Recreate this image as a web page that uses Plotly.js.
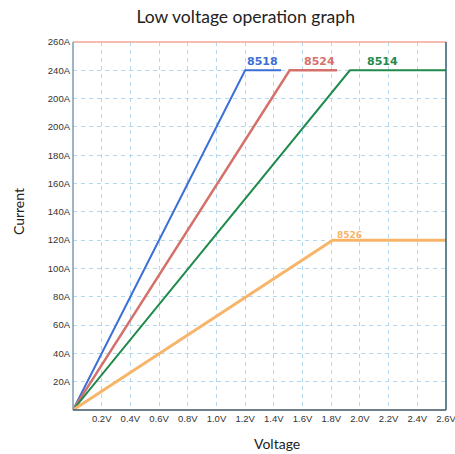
<!DOCTYPE html>
<html><head><meta charset="utf-8">
<script src="https://cdn.plot.ly/plotly-3.0.1.min.js"></script>
<style>html,body{margin:0;padding:0;background:#fff;}#chart{width:455px;height:454px;}</style>
</head><body><div id="chart"></div>
<script>
// Data
const seriesNames = ["8518", "8524", "8514", "8526"];
const v8518 = [0, 1.2, 1.45];
const i8518 = [0, 240, 240];
const v8524 = [0, 1.51, 1.84];
const i8524 = [0, 240, 240];
const v8514 = [0, 1.93, 2.6];
const i8514 = [0, 240, 240];
const v8526 = [0, 1.81, 2.6];
const i8526 = [0, 120, 120];
const xTickVals = [0.2,0.4,0.6,0.8,1.0,1.2,1.4,1.6,1.8,2.0,2.2,2.4,2.6];
const xTickText = ["0.2V","0.4V","0.6V","0.8V","1.0V","1.2V","1.4V","1.6V","1.8V","2.0V","2.2V","2.4V","2.6V"];
const yTickVals = [20,40,60,80,100,120,140,160,180,200,220,240,260];
const yTickText = ["20A","40A","60A","80A","100A","120A","140A","160A","180A","200A","200A","240A","260A"];
const labelPos = [[1.32,240],[1.72,240],[2.16,240],[1.93,120]];

const colors = ["#3b6fd6", "#d4716b", "#1f8a4c", "#f7b56a"];
const widths = [2, 2.5, 2, 3];
const xs = [v8518, v8524, v8514, v8526];
const ys = [i8518, i8524, i8514, i8526];

const traces = xs.map((x, k) => ({
  x: x, y: ys[k], mode: "lines", type: "scatter", name: seriesNames[k],
  line: {color: colors[k], width: widths[k]}, hoverinfo: "skip"
}));

const annotations = seriesNames.map((n, k) => ({
  x: labelPos[k][0], y: labelPos[k][1], xref: "x", yref: "y",
  text: "<b>" + n + "</b>", showarrow: false, yanchor: "bottom", yshift: k === 3 ? -2 : 0,
  font: {family: "DejaVu Sans", size: k === 3 ? 9 : 11, color: colors[k]}
}));
annotations.push({
  text: "Voltage", xref: "paper", yref: "paper", x: 0.548, y: -0.09, showarrow: false,
  font: {family: "Lato", size: 14, color: "#222"}, xanchor: "center", yanchor: "middle"
});
annotations.push({
  text: "Current", xref: "paper", yref: "paper", x: -0.148, y: 0.54, showarrow: false, textangle: -90,
  font: {family: "Lato", size: 14, color: "#222"}, xanchor: "center", yanchor: "middle"
});

// frame shapes
const shapes = [
  {type: "line", xref: "paper", yref: "paper", x0: 0, x1: 1, y0: 1, y1: 1, line: {color: "#f2a593", width: 1.5}},
  {type: "line", xref: "paper", yref: "paper", x0: 1, x1: 1, y0: 0, y1: 1, line: {color: "#2f5e6c", width: 1.5}},
  {type: "line", xref: "paper", yref: "paper", x0: 0, x1: 0, y0: 0, y1: 1, line: {color: "#7d9db2", width: 1.5}},
  {type: "line", xref: "paper", yref: "paper", x0: 0, x1: 1, y0: 0, y1: 0, line: {color: "#3f5560", width: 1.5}}
];

const tf = {family: "Liberation Sans", size: 9.5, color: "#333"};
const layout = {
  width: 455, height: 454,
  margin: {l: 73, r: 9, t: 42, b: 44},
  paper_bgcolor: "#fff", plot_bgcolor: "#fff",
  showlegend: false,
  title: {text: "Low voltage operation graph", font: {family: "Lato", size: 17.5, color: "#222"}, x: 0.54, xanchor: "center", y: 0.963, yanchor: "middle"},
  xaxis: {
    range: [0, 2.6], tickvals: xTickVals, ticktext: xTickText, showline: false, zeroline: false,
    showgrid: true, gridcolor: "#b3d9ee", griddash: "4px,4px", gridwidth: 1,
    tickfont: tf, ticks: "", ticklabelstandoff: 1, ticklabeloverflow: "allow", automargin: false
  },
  yaxis: {
    range: [0, 260], tickvals: yTickVals, ticktext: yTickText, showline: false, zeroline: false,
    showgrid: true, gridcolor: "#b3d9ee", griddash: "4px,4px", gridwidth: 1,
    tickfont: tf, ticks: "", ticklabelstandoff: 2, ticklabeloverflow: "allow", automargin: false
  },
  annotations: annotations,
  shapes: shapes
};

Plotly.newPlot("chart", traces, layout, {displayModeBar: false, staticPlot: true});
</script></body></html>
